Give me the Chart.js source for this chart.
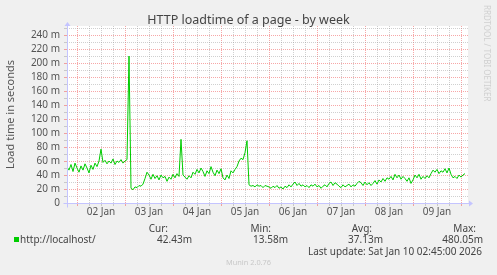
<!DOCTYPE html>
<html>
<head>
<meta charset="utf-8">
<script src="https://cdn.jsdelivr.net/npm/chart.js@4/dist/chart.umd.min.js"></script>
<style>
  html, body { margin: 0; padding: 0; background: #f0f0f0; }
  #wrap { position: relative; width: 497px; height: 275px; font-family: "Noto Sans", sans-serif; color: #444; }
  #wrap canvas { position: absolute; left: 0; top: 0; }
  #title { position: absolute; left: 0; width: 497px; top: 12px; text-align: center; font-size: 12.5px; line-height: 15px; color: #444; }
  .t { position: absolute; font-size: 10px; line-height: 12px; white-space: nowrap; }
  .r { text-align: right; }
  #swatch { position: absolute; left: 14px; top: 237px; width: 5px; height: 5px; background: #00cc00; }
  #rrd { position: absolute; left: 483px; top: 5px; writing-mode: vertical-rl; font-size: 8px; line-height: 9px; color: #d0d0d0; }
  #munin { position: absolute; left: 0; width: 497px; top: 258px; text-align: center; font-size: 7.4px; line-height: 9px; color: #c8c8c8; }
</style>
</head>
<body>
<div id="wrap">
  <canvas id="chart" width="497" height="275"></canvas>
  <div id="title">HTTP loadtime of a page - by week</div>
  <div id="rrd">RRDTOOL / TOBI OETIKER</div>
  <div id="swatch"></div>
  <div class="t" style="left:20px; top:233px;">http://localhost/</div>
  <div class="t r" style="right:329px; top:222px;">Cur:</div>
  <div class="t r" style="right:226px; top:222px;">Min:</div>
  <div class="t r" style="right:125px; top:222px;">Avg:</div>
  <div class="t r" style="right:21px; top:222px;">Max:</div>
  <div class="t r" style="right:305px; top:233px;">42.43m</div>
  <div class="t r" style="right:209px; top:233px;">13.58m</div>
  <div class="t r" style="right:114px; top:233px;">37.13m</div>
  <div class="t r" style="right:14px; top:233px;">480.05m</div>
  <div class="t r" style="right:15px; top:245px;">Last update: Sat Jan 10 02:45:00 2026</div>
  <div id="munin">Munin 2.0.76</div>
</div>
<script>
// hourly averages, first value is 01 Jan 19:00 (hours counted from 01 Jan 00:00)
var firstHour = 19;
var loadMs = [
  52, 47, 55, 45, 57, 50, 44, 53, 47, 56, 50, 43, 54, 48, 57, 52, 60, 77, 58, 61,
  56, 60, 57, 63, 55, 60, 58, 62, 57,
  60, 62, 210, 21, 19, 23, 22, 25, 24, 27, 35, 44, 40, 34, 41, 35, 39, 33, 40, 36,
  38, 31, 37, 34, 41, 36, 42, 38, 91, 40, 37, 34, 39, 36, 44, 41, 48, 43, 50,
  45, 38, 46, 42, 52, 44, 39, 47, 42, 49, 36, 33, 40, 35, 46, 43, 48, 52, 60, 64,
  62, 72, 89, 26, 24, 25, 23, 26, 24, 25, 22, 25, 24,
  23, 21, 24, 22, 25, 21, 23, 20, 24, 22, 26, 23, 27, 30, 25, 28, 24, 26, 23, 25,
  22, 26, 24, 27, 23, 25, 21, 24, 26, 23, 28, 30, 25, 29, 27,
  24, 22, 26, 23, 25, 27, 23, 26, 24, 28, 31, 29, 25, 30, 26, 29, 25, 28, 32, 27,
  33, 30, 35, 31, 36, 34, 38, 33, 41, 36, 40, 34, 38,
  35, 31, 36, 28, 33, 40, 36, 41, 34, 38, 35, 39, 36, 42, 47, 44, 48, 42, 46, 44,
  49, 43, 50, 41, 36, 38, 35, 40, 37, 40, 42
];
var dayLabels = ['02 Jan', '03 Jan', '04 Jan', '05 Jan', '06 Jan', '07 Jan', '08 Jan', '09 Jan'];
var yTicks = [0, 10, 20, 30, 40, 50, 60, 70, 80, 90, 100, 110, 120, 130, 140, 150, 160, 170, 180, 190, 200, 210, 220, 230, 240, 250];
var xStart = 19, xEnd = 219.5, yTop = 253;

var points = loadMs.map(function (v, i) { return { x: firstHour + i, y: v }; });

var majorGrid = 'rgba(240, 80, 80, 0.5)';
var minorGrid = 'rgba(150, 150, 150, 0.45)';
var axisColor = '#c4c4ff';

var muninFrame = {
  id: 'muninFrame',
  beforeDraw: function (chart) {
    var a = chart.chartArea, c = chart.ctx;
    c.save();
    c.fillStyle = '#ffffff';
    c.fillRect(a.left, a.top, a.right - a.left, a.bottom - a.top);
    c.restore();
  },
  afterDraw: function (chart) {
    var a = chart.chartArea, c = chart.ctx;
    var x0 = Math.round(a.left) + 0.5, y0 = Math.round(a.bottom) + 0.5;
    c.save();
    c.strokeStyle = axisColor;
    c.fillStyle = axisColor;
    c.lineWidth = 1;
    c.beginPath();
    c.moveTo(x0 - 4, y0); c.lineTo(a.right + 2, y0);
    c.moveTo(x0, y0 + 4); c.lineTo(x0, a.top - 1);
    c.stroke();
    c.beginPath();
    c.moveTo(a.right + 1, y0 - 3); c.lineTo(a.right + 5, y0); c.lineTo(a.right + 1, y0 + 3);
    c.fill();
    c.beginPath();
    c.moveTo(x0 - 3, a.top); c.lineTo(x0, a.top - 4); c.lineTo(x0 + 3, a.top);
    c.fill();
    c.restore();
  }
};

var ctx = document.getElementById('chart').getContext('2d');
var chart = new Chart(ctx, {
  type: 'line',
  data: {
    datasets: [{
      label: 'http://localhost/',
      data: points,
      borderColor: '#00cc00',
      borderWidth: 1,
      pointRadius: 0,
      tension: 0,
      fill: false
    }]
  },
  options: {
    responsive: false,
    animation: false,
    layout: { padding: { left: 0, right: 29, top: 26, bottom: 0 } },
    plugins: {
      legend: { display: false },
      tooltip: { enabled: false }
    },
    scales: {
      x: {
        type: 'linear',
        min: xStart,
        max: xEnd,
        afterBuildTicks: function (scale) {
          var t = [];
          for (var h = 24; h <= xEnd; h += 6) t.push({ value: h });
          scale.ticks = t;
        },
        afterFit: function (scale) { scale.height = 72; },
        ticks: {
          autoSkip: false,
          minRotation: 0,
          maxRotation: 0,
          padding: 0,
          color: '#555',
          font: { family: 'Noto Sans', size: 10 },
          callback: function (v) {
            return v % 24 === 12 ? dayLabels[(v - 12) / 24 - 1] : '';
          }
        },
        grid: {
          tickLength: 3,
          lineWidth: 1,
          color: function (c) { return c.tick && c.tick.value % 24 === 0 ? majorGrid : minorGrid; },
          tickBorderDash: []
        },
        border: { display: false, dash: [1, 1] }
      },
      y: {
        min: 0,
        max: yTop,
        afterBuildTicks: function (scale) {
          scale.ticks = yTicks.map(function (v) { return { value: v }; });
        },
        afterFit: function (scale) { scale.width = 67; },
        ticks: {
          autoSkip: false,
          padding: 4,
          color: '#555',
          font: { family: 'Noto Sans', size: 10 },
          callback: function (v) {
            if (v % 20 !== 0) return '';
            return v === 0 ? '0' : v + ' m';
          }
        },
        grid: {
          tickLength: 3,
          lineWidth: 1,
          color: function (c) { return c.tick && c.tick.value % 20 === 0 ? majorGrid : minorGrid; },
          tickBorderDash: []
        },
        border: { display: false, dash: [1, 1] },
        title: {
          display: true,
          text: 'Load time in seconds',
          color: '#555',
          font: { family: 'Noto Sans', size: 11, lineHeight: 1.2 },
          padding: { top: 4, bottom: 0 }
        }
      }
    }
  },
  plugins: [muninFrame]
});
</script>
</body>
</html>
